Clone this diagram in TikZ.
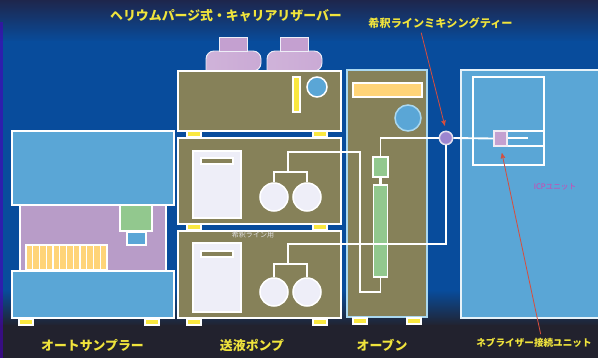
\documentclass[tikz,border=0pt]{standalone}
\usepackage{fontspec}
\setmainfont{Noto Sans CJK JP}
\usetikzlibrary{arrows}
\definecolor{bgnavy}{RGB}{30,38,76}
\definecolor{bgblue}{RGB}{8,76,156}
\definecolor{bgdark}{RGB}{34,34,46}
\definecolor{olivebody}{RGB}{134,129,89}
\definecolor{skyunit}{RGB}{90,166,214}
\definecolor{lilac}{RGB}{184,156,200}
\definecolor{mint}{RGB}{146,200,142}
\definecolor{trayyellow}{RGB}{255,212,120}
\definecolor{footyellow}{RGB}{250,232,64}
\definecolor{labelyellow}{RGB}{240,228,60}
\definecolor{paper}{RGB}{238,238,248}
\definecolor{ovenedge}{RGB}{170,216,240}
\definecolor{capviolet}{RGB}{196,160,208}
\definecolor{pointer}{RGB}{214,78,62}
\definecolor{icppink}{RGB}{214,64,176}
\tikzset{
	housing/.style = {draw=white, line width=1.3pt, fill=olivebody},
	skybox/.style = {draw=white, line width=1.3pt, fill=skyunit},
	foot/.style = {draw=white, line width=1pt, fill=footyellow},
	pipe/.style = {draw=white, line width=1.6pt},
	head/.style = {circle, draw=white, line width=1.3pt, fill=paper,
		inner sep=0pt, minimum size=8.4mm},% pump head
	bottle/.style = {draw=paper, line width=0.8pt, left color=capviolet!80!white,
		middle color=paper!90!capviolet, right color=capviolet!90!white},
	caption/.style = {text=labelyellow, font=\bfseries\fontsize{11}{13}\selectfont},
	callout/.style = {pointer, line width=0.7pt, ->, >=stealth'}
}

\begin{document}
\begin{tikzpicture}[x=0.3mm, y=-0.3mm]
	\useasboundingbox (0,0) rectangle (598,358);
	% backdrop
	\shade[top color=bgnavy, bottom color=bgblue] (0,0) rectangle (598,42);
	\fill[bgblue] (0,41) rectangle (598,291);
	\shade[top color=bgblue, bottom color=bgdark] (0,290) rectangle (598,326);
	\fill[bgdark] (0,325) rectangle (598,358);
	\fill[blue!45!violet, opacity=0.6] (0,22) rectangle (3,358);

	% autosampler
	\draw[housing, fill=lilac] (20,205) rectangle (166,271);
	\draw[skybox] (12,131) rectangle (174,205);
	\draw[housing, fill=mint] (120,205) rectangle (152,231);
	\draw[skybox] (127,232) rectangle (146,245);
	\draw[housing, fill=trayyellow] (26,245) rectangle (107,270);
	\foreach \i in {1,...,11}
		\draw[white, line width=1pt] (26+\i*6.75,246) -- (26+\i*6.75,269);
	\draw[skybox] (12,271) rectangle (174,318);

	% helium purge / carrier reservoir
	\foreach \x in {206,267}{
		\path[bottle] (\x,71) [rounded corners=2.4mm] |- (\x+55,51) -- (\x+55,71) [sharp corners] -- cycle;
		\draw[draw=paper, line width=0.8pt, fill=capviolet] (\x+13,37) rectangle (\x+41,51);
	}
	\draw[housing] (178,71) rectangle (341,131);
	\draw[foot] (293,77) rectangle (300,112);
	\draw[skybox] (317,87) circle (10);

	% pumps
	\draw[housing] (178,138) rectangle (341,224);
	\draw[housing] (178,231) rectangle (341,318);
	\draw[housing, fill=paper] (193,151) rectangle (241,218);
	\draw[housing] (201,158) rectangle (233,164);
	\draw[housing, fill=paper] (193,243) rectangle (241,312);
	\draw[housing] (201,251) rectangle (233,257);
	\node[text=paper!85!olivebody, font=\fontsize{6}{7}\selectfont] (dilutionnote) at (253,235) {希釈ライン用};

	% column oven
	\draw[housing, draw=ovenedge] (347,70) rectangle (427,317);
	\draw[housing, fill=trayyellow] (353,83) rectangle (422,97);
	\draw[skybox, draw=ovenedge] (408,118) circle (13);

	% ICP
	\draw[skybox, line width=1pt, draw=white!85!skyunit] (461,70) rectangle (610,318);
	\draw[white, line width=1.3pt] (473,77) rectangle (544,165);
	\draw[white, line width=1.3pt] (507,131) -- (544,131) (507,146) -- (544,146) (507,138) -- (528,138);
	\node[text=icppink, font=\fontsize{6.5}{7}\selectfont] (icpnote) at (555,187) {ICPユニット};

	% feet
	\foreach \x/\y in {19/319, 145/319, 187/131, 313/131, 187/224, 313/224,
		187/319, 313/319, 353/318, 407/318}
		\draw[foot] (\x,\y) rectangle ++(14,6);

	% flow path
	\node[head] (headA1) at (274,197) {};
	\node[head] (headB1) at (307,197) {};
	\node[head] (headA2) at (274,292) {};
	\node[head] (headB2) at (307,292) {};
	\node[draw=white, line width=1.3pt, fill=mint, inner sep=0pt,
		minimum width=4.5mm, minimum height=6mm] (precol) at (380.5,167) {};
	\node[draw=white, line width=1.3pt, fill=mint, inner sep=0pt,
		minimum width=4.2mm, minimum height=27.6mm] (column) at (380.5,231) {};
	\node[circle, draw=paper!80!lilac, line width=1.3pt, fill=lilac!85!blue,
		inner sep=0pt, minimum size=4mm] (tee) at (446,138) {};
	\node[draw=white!80!lilac, line width=1pt, fill=capviolet, inner sep=0pt,
		minimum width=3.9mm, minimum height=4.5mm] (neb) at (500.5,138.5) {};
	\coordinate (feed1) at (288,172);
	\coordinate (feed2) at (288,264);

	\draw[pipe] (headA1.north) |- (feed1) -| (headB1.north);
	\draw[pipe] (feed1) |- ++(72,-20) -- ++(0,140) -| (column.south);
	\draw[pipe, line width=2.4pt] (precol.south) -- (column.north);
	\draw[pipe] (precol.north) |- (tee.west);
	\draw[pipe] (tee.east) -- (neb.west);
	\draw[pipe] (headA2.north) |- (feed2) -| (headB2.north);
	\draw[pipe] (feed2) -- ++(0,-20) -| (tee.south);

	% captions
	\node[caption] (purgelabel) at (226,16) {ヘリウムパージ式・キャリアリザーバー};
	\node[caption, font=\bfseries\fontsize{9.5}{11}\selectfont] (teelabel) at (440.5,23) {希釈ラインミキシングティー};
	\node[caption] (samplerlabel) at (92.5,345) {オートサンプラー};
	\node[caption] (pumplabel) at (252,345) {送液ポンプ};
	\node[caption] (ovenlabel) at (382,345) {オーブン};
	\node[caption, font=\bfseries\fontsize{8.2}{10}\selectfont] (neblabel) at (534,343) {ネブライザー接続ユニット};

	\draw[callout, shorten >=1.5mm] ([xshift=-5.8mm]teelabel.south) -- (tee.north);
	\draw[callout, shorten >=2mm] ([xshift=2mm]neblabel.north) -- (neb.south);
\end{tikzpicture}
\end{document}
